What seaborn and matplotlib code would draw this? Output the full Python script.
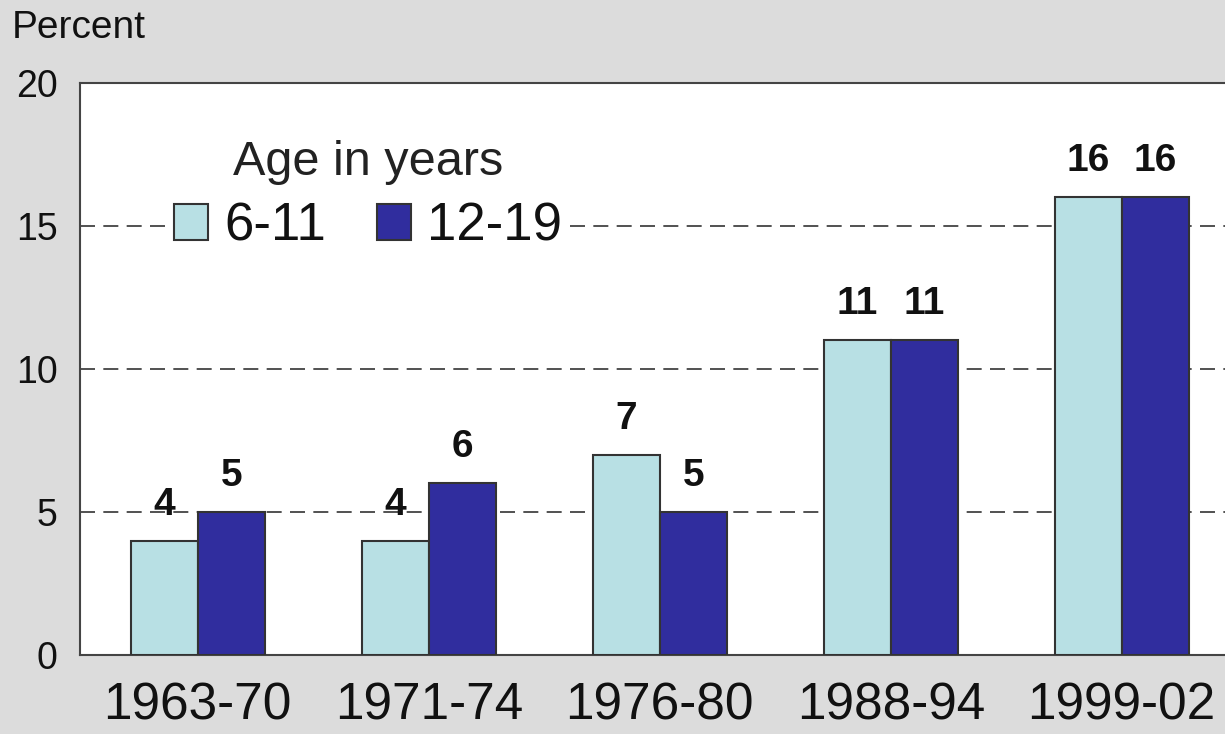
import matplotlib
matplotlib.use("Agg")
import matplotlib.pyplot as plt
import seaborn as sns
import pandas as pd

periods = ["1963-70", "1971-74", "1976-80", "1988-94", "1999-02"]
age_6_11 = [4, 4, 7, 11, 16]
age_12_19 = [5, 6, 5, 11, 16]
groups = ["6-11", "12-19"]
yticks = [0, 5, 10, 15, 20]

df = pd.DataFrame({
    "period": periods * 2,
    "value": age_6_11 + age_12_19,
    "age": [groups[0]] * len(periods) + [groups[1]] * len(periods),
})

sns.set_theme(style="white")
plt.rcParams["font.family"] = ["Liberation Sans", "DejaVu Sans"]

bg = "#dcdcdc"
light = "#b8e0e4"
dark = "#302d9e"

fig = plt.figure(figsize=(12.25, 7.34), dpi=100, facecolor=bg)
ax = fig.add_axes([80 / 1225, 79 / 734, 1 - 80 / 1225, 572 / 734])
ax.set_facecolor("white")

sns.barplot(data=df, x="period", y="value", hue="age", hue_order=groups,
            palette=[light, dark], width=0.58, edgecolor="#333333",
            linewidth=1.5, saturation=1, ax=ax, zorder=3)

for c in ax.containers:
    ax.bar_label(c, fmt="%d", padding=13, fontsize=28, fontweight="bold",
                 color="#111111")

ax.set_ylim(0, 20)
ax.set_xlim(-0.51, 4.447)
ax.set_yticks(yticks)
ax.set_yticklabels([str(t) for t in yticks])
ax.yaxis.grid(True, linestyle=(0, (9, 5)), color="#333333", linewidth=1.2,
              zorder=0)
ax.set_axisbelow(True)
ax.tick_params(axis="y", length=0, pad=16, labelsize=27, labelcolor="#111111")
ax.tick_params(axis="x", length=0, pad=19, labelsize=37, labelcolor="#111111")
ax.set_xlabel("")
ax.set_ylabel("")

for s in ["left", "top", "bottom"]:
    ax.spines[s].set_visible(True)
    ax.spines[s].set_color("#444444")
    ax.spines[s].set_linewidth(1.5)
ax.spines["right"].set_visible(False)

handles, labels = ax.get_legend_handles_labels()
leg = ax.legend(handles, labels, title="Age in years", ncol=2,
                loc="upper left", bbox_to_anchor=(0.052, 0.96),
                fontsize=38, title_fontsize=35, frameon=True,
                facecolor="white", edgecolor="none", framealpha=1,
                handlelength=0.65, handleheight=0.65, handletextpad=0.3,
                columnspacing=0.97, borderpad=0.15, labelspacing=0.31)
leg.get_title().set_color("#222222")
for t in leg.get_texts():
    t.set_color("#111111")
leg.set_zorder(5)

fig.text(12 / 1225, 1 - 28 / 734, "Percent", fontsize=28, va="center",
         ha="left", color="#111111")

fig.savefig("out.png", dpi=100, facecolor=bg)
